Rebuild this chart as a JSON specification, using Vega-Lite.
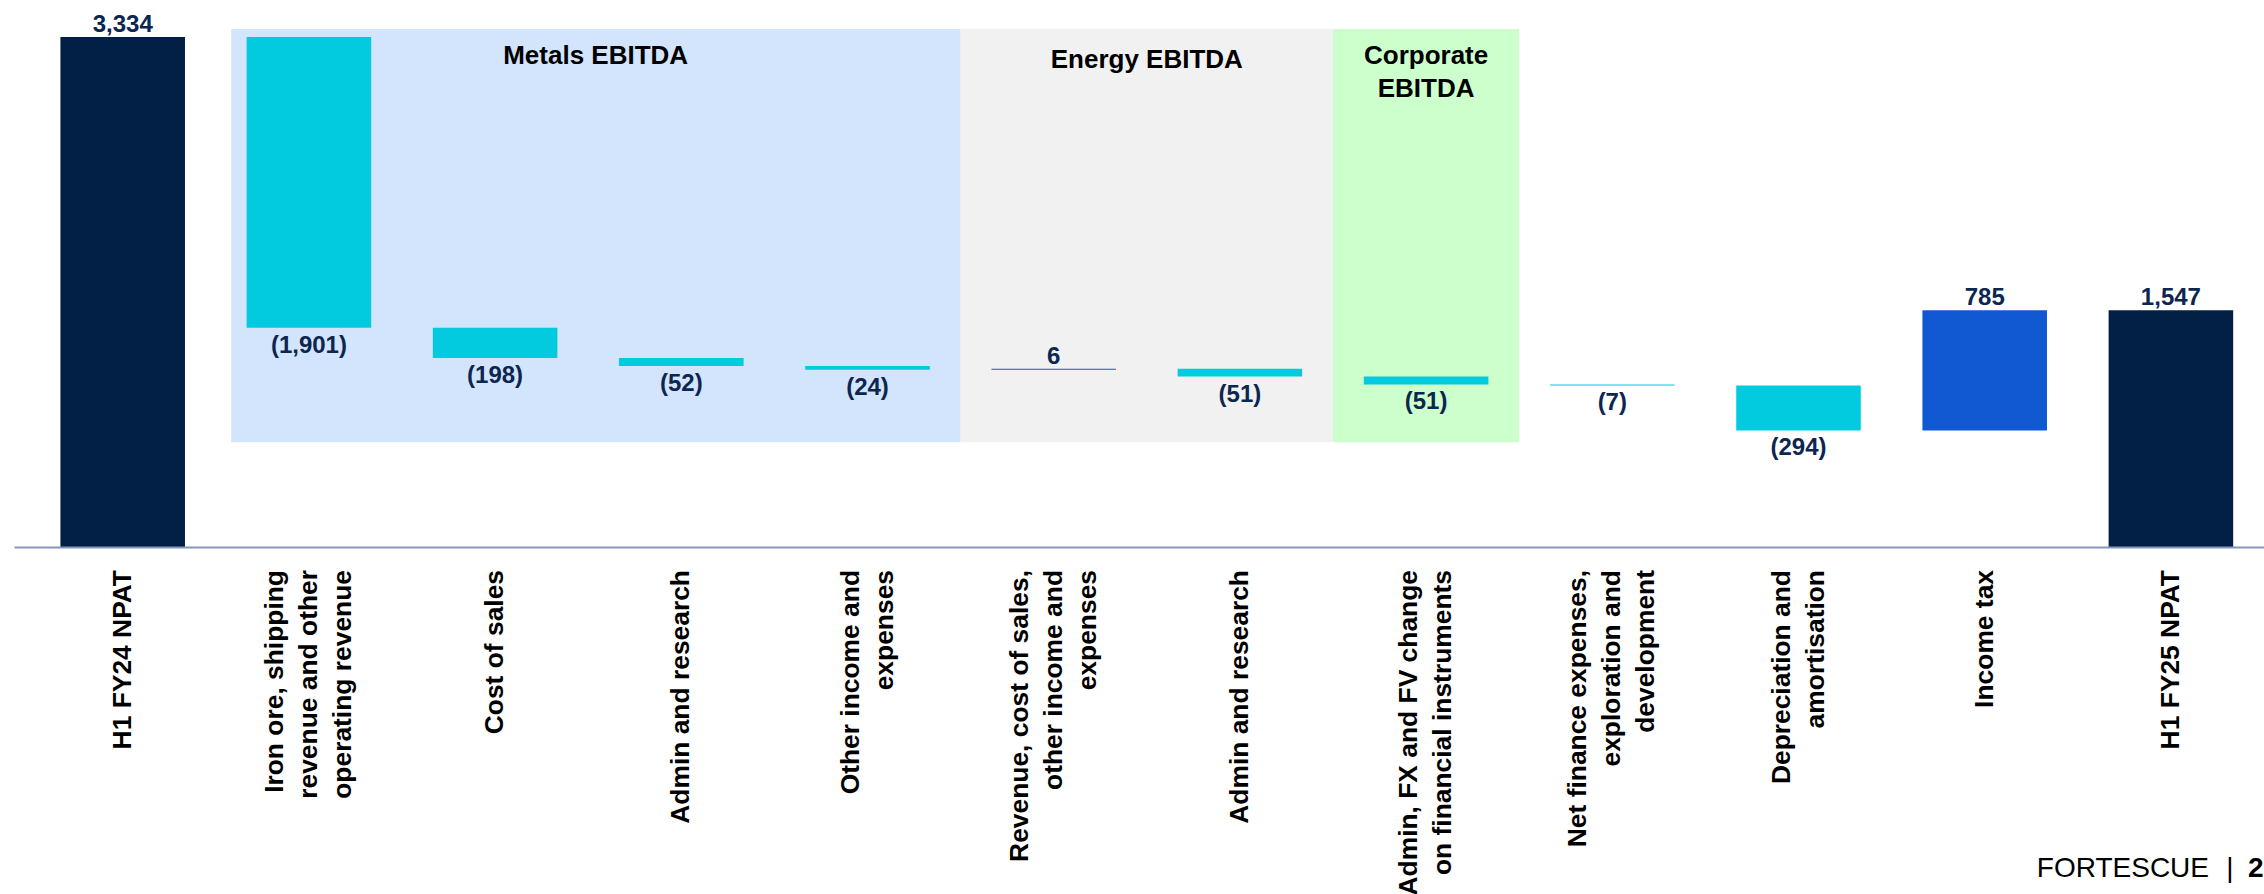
{
  "$schema": "https://vega.github.io/schema/vega-lite/v6.json",
  "width": 2250,
  "height": 547,
  "autosize": {"type": "none"},
  "padding": {"left": 14, "top": 0, "right": 0, "bottom": 347},
  "background": "white",
  "config": {
    "view": {"stroke": null},
    "axisX": {"labels": false, "ticks": false, "title": null, "grid": false, "domainColor": "#8497bb", "domainWidth": 2}
  },
  "datasets": {
    "steps": [
      {"step": 1, "label": "H1 FY24 NPAT", "kind": "total", "start": 0, "end": 3334, "value": 3334},
      {"step": 2, "label": ["Iron ore, shipping", "revenue and other", "operating revenue"], "kind": "neg", "start": 3334, "end": 1433, "value": -1901},
      {"step": 3, "label": "Cost of sales", "kind": "neg", "start": 1433, "end": 1235, "value": -198},
      {"step": 4, "label": "Admin and research", "kind": "neg", "start": 1235, "end": 1183, "value": -52},
      {"step": 5, "label": ["Other income and", "expenses"], "kind": "neg", "start": 1183, "end": 1159, "value": -24},
      {"step": 6, "label": ["Revenue, cost of sales,", "other income and", "expenses"], "kind": "pos", "start": 1159, "end": 1165, "value": 6},
      {"step": 7, "label": "Admin and research", "kind": "neg", "start": 1165, "end": 1114, "value": -51},
      {"step": 8, "label": ["Admin, FX and FV change", "on financial instruments"], "kind": "neg", "start": 1114, "end": 1063, "value": -51},
      {"step": 9, "label": ["Net finance expenses,", "exploration and", "development"], "kind": "neg", "start": 1063, "end": 1056, "value": -7},
      {"step": 10, "label": ["Depreciation and", "amortisation"], "kind": "neg", "start": 1056, "end": 762, "value": -294},
      {"step": 11, "label": "Income tax", "kind": "pos", "start": 762, "end": 1547, "value": 785},
      {"step": 12, "label": "H1 FY25 NPAT", "kind": "total", "start": 0, "end": 1547, "value": 1547}
    ],
    "groups": [
      {"group": "Metals EBITDA", "title": "Metals EBITDA", "first": 2, "last": 5},
      {"group": "Energy EBITDA", "title": "Energy EBITDA", "first": 6, "last": 7},
      {"group": "Corporate EBITDA", "title": ["Corporate", "EBITDA"], "first": 8, "last": 8}
    ]
  },
  "resolve": {"scale": {"color": "independent"}},
  "layer": [
    {
      "data": {"name": "groups"},
      "transform": [{"filter": "datum.group === 'Metals EBITDA'"}],
      "mark": {"type": "rect"},
      "encoding": {
        "x": {"field": "first", "type": "ordinal", "bandPosition": 0.083,
              "scale": {"domain": [1,2,3,4,5,6,7,8,9,10,11,12], "paddingInner": 0, "paddingOuter": 0.0419, "align": 1}},
        "x2": {"field": "last", "bandPosition": 1},
        "y": {"datum": 3386, "type": "quantitative", "scale": {"domain": [0, 3576], "nice": false, "zero": false}, "axis": null},
        "y2": {"datum": 685},
        "color": {"field": "group", "type": "nominal", "legend": null,
                  "scale": {"domain": ["Metals EBITDA", "Energy EBITDA", "Corporate EBITDA"], "range": ["#d2e5fd", "#f1f1f1", "#ccffcc"]}}
      }
    },
    {
      "data": {"name": "groups"},
      "transform": [{"filter": "datum.group !== 'Metals EBITDA'"}],
      "mark": {"type": "rect"},
      "encoding": {
        "x": {"field": "first", "type": "ordinal", "bandPosition": 0},
        "x2": {"field": "last", "bandPosition": 1},
        "y": {"datum": 3386, "type": "quantitative", "axis": null},
        "y2": {"datum": 685},
        "color": {"field": "group", "type": "nominal", "legend": null,
                  "scale": {"domain": ["Metals EBITDA", "Energy EBITDA", "Corporate EBITDA"], "range": ["#d2e5fd", "#f1f1f1", "#ccffcc"]}}
      }
    },
    {
      "data": {"name": "groups"},
      "transform": [{"filter": "datum.group === 'Metals EBITDA'"}],
      "mark": {"type": "text", "font": "Liberation Sans", "fontWeight": "bold", "fontSize": 26, "color": "#000000", "align": "center", "baseline": "alphabetic"},
      "encoding": {
        "x": {"datum": 4, "type": "ordinal", "bandPosition": 0.04},
        "y": {"datum": 3157, "type": "quantitative", "axis": null},
        "text": {"field": "title"}
      }
    },
    {
      "data": {"name": "groups"},
      "transform": [{"filter": "datum.group === 'Energy EBITDA'"}],
      "mark": {"type": "text", "font": "Liberation Sans", "fontWeight": "bold", "fontSize": 26, "color": "#000000", "align": "center", "baseline": "alphabetic"},
      "encoding": {
        "x": {"datum": 7, "type": "ordinal", "bandPosition": 0},
        "y": {"datum": 3130, "type": "quantitative", "axis": null},
        "text": {"field": "title"}
      }
    },
    {
      "data": {"name": "groups"},
      "transform": [{"filter": "datum.group === 'Corporate EBITDA'"}],
      "mark": {"type": "text", "font": "Liberation Sans", "fontWeight": "bold", "fontSize": 26, "color": "#000000", "align": "center", "baseline": "alphabetic", "lineHeight": 33},
      "encoding": {
        "x": {"datum": 8, "type": "ordinal", "bandPosition": 0.5},
        "y": {"datum": 3157, "type": "quantitative", "axis": null},
        "text": {"field": "title"}
      }
    },
    {
      "data": {"name": "steps"},
      "mark": {"type": "bar", "width": {"band": 0.669}},
      "encoding": {
        "x": {"field": "step", "type": "ordinal"},
        "y": {"field": "start", "type": "quantitative", "axis": null},
        "y2": {"field": "end"},
        "color": {"field": "kind", "type": "nominal", "legend": null,
                  "scale": {"domain": ["total", "neg", "pos"], "range": ["#021f45", "#02cbe0", "#1158d3"]}}
      }
    },
    {
      "data": {"name": "steps"},
      "transform": [{"filter": "datum.value >= 0"}],
      "mark": {"type": "text", "font": "Liberation Sans", "fontWeight": "bold", "fontSize": 24, "color": "#0c2650", "align": "center", "baseline": "alphabetic", "dy": -5},
      "encoding": {
        "x": {"field": "step", "type": "ordinal"},
        "y": {"field": "end", "type": "quantitative", "axis": null},
        "text": {"field": "value", "type": "quantitative", "format": "(,d"}
      }
    },
    {
      "data": {"name": "steps"},
      "transform": [{"filter": "datum.value < 0"}],
      "mark": {"type": "text", "font": "Liberation Sans", "fontWeight": "bold", "fontSize": 24, "color": "#0c2650", "align": "center", "baseline": "top", "dy": 6},
      "encoding": {
        "x": {"field": "step", "type": "ordinal"},
        "y": {"field": "end", "type": "quantitative", "axis": null},
        "text": {"field": "value", "type": "quantitative", "format": "(,d"}
      }
    },
    {
      "data": {"name": "steps"},
      "transform": [{"filter": "!isArray(datum.label)"}],
      "mark": {"type": "text", "font": "Liberation Sans", "fontWeight": "bold", "fontSize": 26.4, "color": "#000000", "angle": 270, "align": "right", "baseline": "middle", "lineHeight": 34, "dx": -23},
      "encoding": {
        "x": {"field": "step", "type": "ordinal"},
        "y": {"datum": 0, "type": "quantitative", "axis": null},
        "text": {"field": "label"}
      }
    },
    {
      "data": {"name": "steps"},
      "transform": [{"filter": "isArray(datum.label) && length(datum.label) === 2"}],
      "mark": {"type": "text", "font": "Liberation Sans", "fontWeight": "bold", "fontSize": 26.4, "color": "#000000", "angle": 270, "align": "right", "baseline": "middle", "lineHeight": 34, "dx": -23, "dy": -17},
      "encoding": {
        "x": {"field": "step", "type": "ordinal"},
        "y": {"datum": 0, "type": "quantitative", "axis": null},
        "text": {"field": "label"}
      }
    },
    {
      "data": {"name": "steps"},
      "transform": [{"filter": "isArray(datum.label) && length(datum.label) === 3"}],
      "mark": {"type": "text", "font": "Liberation Sans", "fontWeight": "bold", "fontSize": 26.4, "color": "#000000", "angle": 270, "align": "right", "baseline": "middle", "lineHeight": 34, "dx": -23, "dy": -34},
      "encoding": {
        "x": {"field": "step", "type": "ordinal"},
        "y": {"datum": 0, "type": "quantitative", "axis": null},
        "text": {"field": "label"}
      }
    },
    {
      "data": {"values": [{}]},
      "mark": {"type": "text", "font": "Liberation Sans", "fontWeight": "normal", "fontSize": 28, "color": "#000000", "align": "right", "baseline": "alphabetic", "dx": -55, "text": "FORTESCUE"},
      "encoding": {
        "x": {"datum": 12, "type": "ordinal", "bandPosition": 1},
        "y": {"datum": -2155, "type": "quantitative", "axis": null}
      }
    },
    {
      "data": {"values": [{}]},
      "mark": {"type": "text", "font": "Liberation Sans", "fontWeight": "normal", "fontSize": 28, "color": "#000000", "align": "center", "baseline": "alphabetic", "dx": -34, "text": "|"},
      "encoding": {
        "x": {"datum": 12, "type": "ordinal", "bandPosition": 1},
        "y": {"datum": -2155, "type": "quantitative", "axis": null}
      }
    },
    {
      "data": {"values": [{}]},
      "mark": {"type": "text", "font": "Liberation Sans", "fontWeight": "bold", "fontSize": 28, "color": "#000000", "align": "left", "baseline": "alphabetic", "dx": -16, "text": "2"},
      "encoding": {
        "x": {"datum": 12, "type": "ordinal", "bandPosition": 1},
        "y": {"datum": -2155, "type": "quantitative", "axis": null}
      }
    }
  ]
}
